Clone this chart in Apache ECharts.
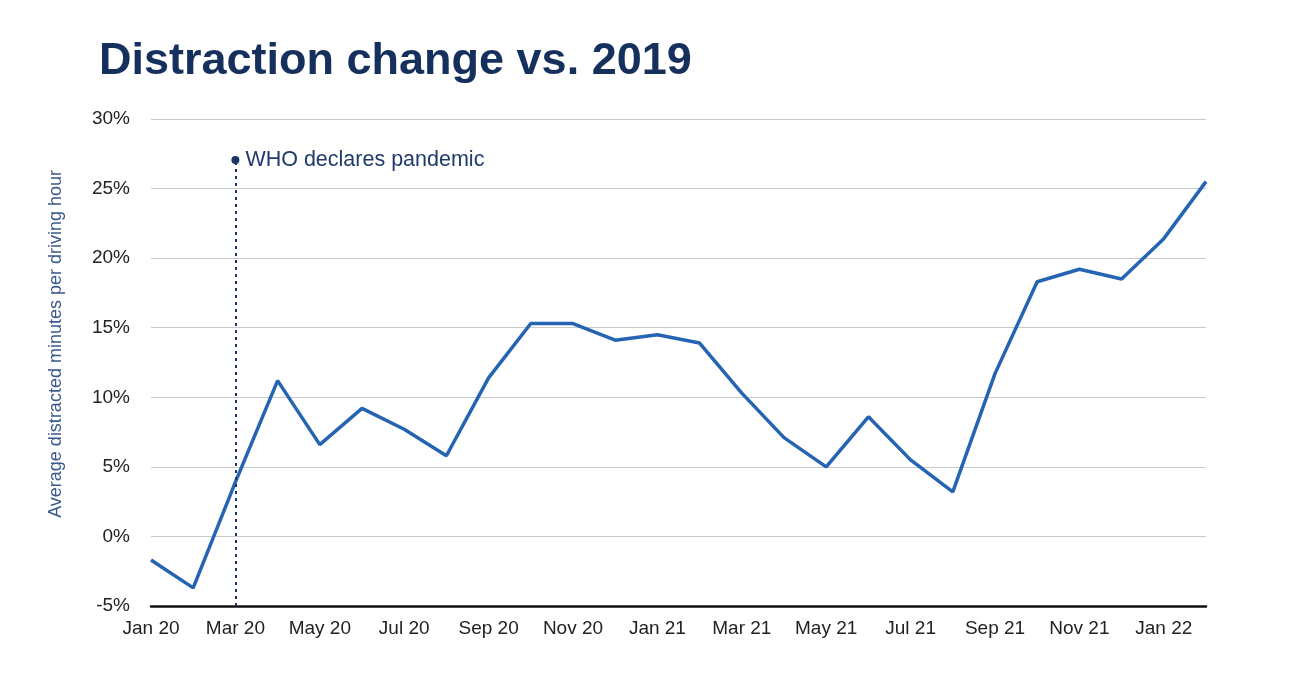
<!DOCTYPE html>
<html>
<head>
<meta charset="utf-8">
<script src="https://cdn.jsdelivr.net/npm/echarts@6/dist/echarts.min.js"></script>
<style>
html,body{margin:0;padding:0;background:#fff;}
#c{width:1296px;height:682px;}
</style>
</head>
<body>
<div id="c"></div>
<script>
const months = ['Jan 20','Feb 20','Mar 20','Apr 20','May 20','Jun 20','Jul 20','Aug 20','Sep 20','Oct 20','Nov 20','Dec 20',
  'Jan 21','Feb 21','Mar 21','Apr 21','May 21','Jun 21','Jul 21','Aug 21','Sep 21','Oct 21','Nov 21','Dec 21',
  'Jan 22','Feb 22'];
const distractionChange = [-1.7,-3.7,3.9,11.2,6.6,9.2,7.7,5.8,11.4,15.3,15.3,14.1,
  14.5,13.9,10.3,7.1,5.0,8.6,5.5,3.2,11.7,18.3,19.2,18.5,
  21.4,25.5];
const yTicks = {min:-5, max:30, interval:5};
const annotationMonth = 'Mar 20';
const annotationTop = 27.05;
const annotationText = 'WHO declares pandemic';
const FONT = 'Liberation Sans, Arial, sans-serif';

const chart = echarts.init(document.getElementById('c'), null, {renderer:'canvas'});
chart.setOption({
  animation:false,
  backgroundColor:'#ffffff',
  title:{
    text:'Distraction change vs. 2019',
    left:94, top:34,
    textStyle:{fontFamily:FONT,fontWeight:'bold',fontSize:45,color:'#16305e'}
  },
  grid:{left:151,right:90,top:119,bottom:76,containLabel:false},
  xAxis:{
    type:'category',
    data:months,
    boundaryGap:false,
    axisLine:{onZero:false,lineStyle:{color:'#111',width:2.5}},
    axisTick:{show:false},
    axisLabel:{interval:1,color:'#222',fontSize:19,fontFamily:FONT,margin:13},
    splitLine:{show:false}
  },
  yAxis:{
    type:'value',
    min:yTicks.min,max:yTicks.max,interval:yTicks.interval,
    axisLine:{show:false},
    axisTick:{show:false},
    axisLabel:{formatter:'{value}%',color:'#222',fontSize:19,fontFamily:FONT,margin:21},
    splitLine:{lineStyle:{color:'#c9c9c9',width:1.2}}
  },
  graphic:[{
    type:'text',
    left:47, top:170,
    rotation:Math.PI/2,
    style:{text:'Average distracted minutes per driving hour',fill:'#3b5a8c',fontSize:18,fontFamily:FONT}
  }],
  series:[{
    type:'line',
    data:distractionChange,
    symbol:'none',
    lineStyle:{color:'#2563b3',width:3.5},
    markLine:{
      silent:true,
      symbol:['none','none'],
      lineStyle:{color:'#1a3566',type:[3,4],width:2},
      label:{show:false},
      data:[[{coord:[annotationMonth,yTicks.min]},{coord:[annotationMonth,annotationTop]}]]
    },
    markPoint:{
      silent:true,
      symbol:'circle',symbolSize:8,
      itemStyle:{color:'#1a3566'},
      label:{show:true,position:'right',distance:6,formatter:annotationText,color:'#1f3a6b',fontSize:21.5,fontFamily:FONT},
      data:[{coord:[annotationMonth,annotationTop]}]
    }
  }]
});
</script>
</body>
</html>
